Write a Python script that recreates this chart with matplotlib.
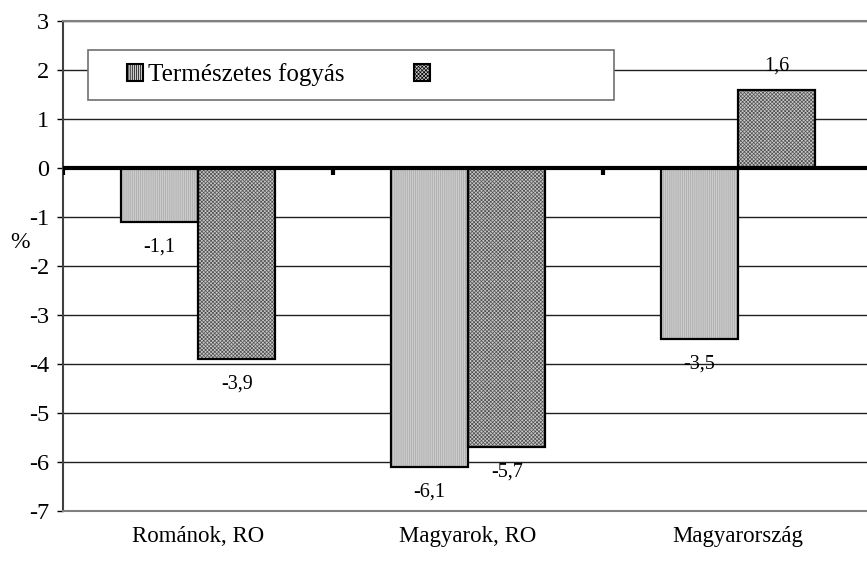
import matplotlib.pyplot as plt
import matplotlib.patches as mpatches
import numpy as np

plt.rcParams['font.family'] = ['Liberation Serif', 'DejaVu Serif']
plt.rcParams['hatch.linewidth'] = 0.5

# data
categories = ['Románok, RO', 'Magyarok, RO', 'Magyarország']
fogyas = [-1.1, -6.1, -3.5]
masik = [-3.9, -5.7, 1.6]
labels_fogyas = ['-1,1', '-6,1', '-3,5']
labels_masik = ['-3,9', '-5,7', '1,6']
series_names = ['Természetes fogyás', '']
yticks = list(range(-7, 4))

W, H = 867, 564
fig = plt.figure(figsize=(W / 100, H / 100), dpi=100)
ax = fig.add_axes([63 / W, (H - 511) / H, 810 / W, 490 / H])

x = np.arange(len(categories))
bw = 0.287

# hatched fills, then black outlines on top
ax.bar(x - bw / 2, fogyas, bw, color='#cccccc', edgecolor='#a8a8a8', hatch='||||||||', lw=0, zorder=2)
ax.bar(x + bw / 2, masik, bw, color='#c8c8c8', edgecolor='#505050', hatch='xxxxxxxxx', lw=0, zorder=2)
ax.bar(x - bw / 2, fogyas, bw, fill=False, edgecolor='black', lw=1.6, zorder=3)
ax.bar(x + bw / 2, masik, bw, fill=False, edgecolor='black', lw=1.6, zorder=3)

for xi, v, t in zip(x - bw / 2, fogyas, labels_fogyas):
    ax.annotate(t, (xi, v), xytext=(0, 17 if v > 0 else -18), textcoords='offset points',
                ha='center', va='center', fontsize=14.5)
for xi, v, t in zip(x + bw / 2, masik, labels_masik):
    ax.annotate(t, (xi, v), xytext=(0, 17 if v > 0 else -18), textcoords='offset points',
                ha='center', va='center', fontsize=14.5)

# zero line and its category tick marks
ax.axhline(0, color='black', lw=3, zorder=4)
ax.vlines(np.arange(len(categories)) - 0.5, -0.15, 0, color='black', lw=3, zorder=4)

ax.set_xlim(-0.5, len(categories) - 0.5)
ax.set_ylim(-7, 3)
ax.set_yticks(yticks)
ax.set_yticklabels([str(t) for t in yticks])
ax.yaxis.grid(True, color='#202020', lw=1)
ax.set_axisbelow(True)
ax.tick_params(axis='y', length=4, width=1, pad=6, labelsize=17.5)
ax.set_xticks(x)
ax.set_xticklabels(categories)
ax.tick_params(axis='x', length=0, pad=11, labelsize=16.5)
for s in ['top', 'bottom']:
    ax.spines[s].set_color('#808080')
    ax.spines[s].set_linewidth(1.5)
ax.spines['left'].set_color('#404040')
ax.spines['left'].set_linewidth(1.5)
ax.spines['right'].set_visible(False)

fig.text(20 / W, 1 - 242 / H, '%', fontsize=17, ha='center', va='center')

# legend box
box = mpatches.Rectangle((88 / W, 1 - 100 / H), 526 / W, 50 / H, transform=fig.transFigure,
                         facecolor='white', edgecolor='#707070', lw=1.2, zorder=5)
ax.add_patch(box)
box.set_clip_on(False)
h1 = mpatches.Patch(facecolor='#cccccc', edgecolor='black', hatch='||||||||', lw=1.5)
h2 = mpatches.Patch(facecolor='#c8c8c8', edgecolor='black', hatch='xxxxxxxxx', lw=1.5)
leg = ax.legend([h1, h2], series_names, ncol=2, frameon=False, fontsize=18,
                loc='center left', bbox_to_anchor=(127 / W, 1 - 75 / H),
                bbox_transform=fig.transFigure, handlelength=0.65, handleheight=0.65,
                handletextpad=0.2, columnspacing=2.75, borderpad=0, borderaxespad=0)
leg.set_zorder(6)

fig.savefig('out.png', dpi=100)
